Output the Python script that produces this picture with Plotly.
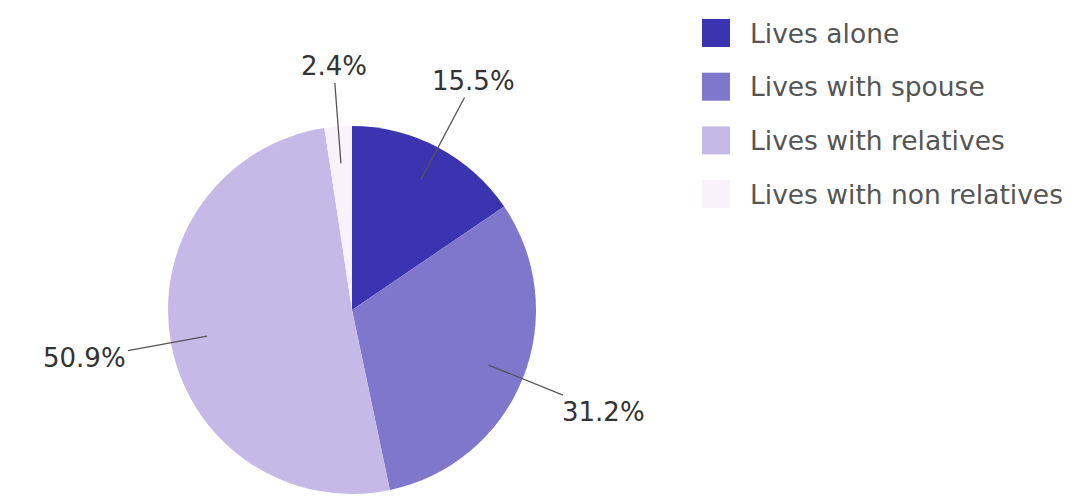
import math
import plotly.graph_objects as go

# ---- data ----
categories = ["Lives alone", "Lives with spouse", "Lives with relatives", "Lives with non relatives"]
shares = [15.5, 31.2, 50.9, 2.4]
colors = ["#3b34b0", "#7f77cc", "#c4b9e7", "#faf2fa"]

# ---- layout constants (pixels) ----
W, H = 1072, 496
CX, CY, R = 352, 310, 184
LABEL_FONT = 26
LEGEND_FONT = 26.5
LEG_SWATCH_X = 702
LEG_SWATCH = 28
LEG_TEXT_X = 748
LEG_Y0 = 33
LEG_PITCH = 53.7
FONT = "DejaVu Sans"


def px_to_paper(x, y):
    return x / W, 1 - y / H


fig = go.Figure()
fig.add_trace(go.Pie(
    labels=categories,
    values=shares,
    sort=False,
    direction="clockwise",
    rotation=0,
    marker=dict(colors=colors, line=dict(color="white", width=0)),
    textinfo="none",
    showlegend=False,
    hoverinfo="label+percent",
    domain=dict(
        x=[(CX - R) / W, (CX + R) / W],
        y=[(H - CY - R) / H, (H - CY + R) / H],
    ),
))

annotations = []
shapes = []

# outside labels with leader lines, placed along each slice's mid-angle
total = sum(shares)
cum = 0.0
for v in shares:
    mid = (cum + v / 2) / total * 2 * math.pi
    cum += v
    s, c = math.sin(mid), math.cos(mid)
    r1 = 0.8 * R
    r2 = 1.24 * R
    sx, sy = CX + r1 * s, CY - r1 * c
    ex, ey = CX + r2 * s, CY - r2 * c
    half_w = 0.5 * LABEL_FONT * 3.2
    half_h = 0.5 * LABEL_FONT
    d = abs(s) * half_w + abs(c) * half_h
    tx, ty = ex + s * d, ey - c * d
    ax_, ay_ = px_to_paper(sx, sy)
    annotations.append(dict(
        x=ax_, y=ay_, xref="paper", yref="paper",
        text=f"{v:.1f}%",
        showarrow=True, arrowhead=0, arrowwidth=1.3, arrowcolor="#555555",
        ax=tx - sx, ay=ty - sy,
        font=dict(family=FONT, size=LABEL_FONT, color="#333333"),
        standoff=0,
    ))

# legend drawn as swatches + texts
for i, (name, col) in enumerate(zip(categories, colors)):
    yc = LEG_Y0 + i * LEG_PITCH
    x0, y0 = px_to_paper(LEG_SWATCH_X, yc - LEG_SWATCH / 2)
    x1, y1 = px_to_paper(LEG_SWATCH_X + LEG_SWATCH, yc + LEG_SWATCH / 2)
    shapes.append(dict(type="rect", xref="paper", yref="paper",
                       x0=x0, y0=y1, x1=x1, y1=y0,
                       fillcolor=col, line=dict(width=0)))
    tx, ty = px_to_paper(LEG_TEXT_X, yc)
    annotations.append(dict(
        x=tx, y=ty, xref="paper", yref="paper", showarrow=False,
        xanchor="left", yanchor="middle", text=name,
        font=dict(family=FONT, size=LEGEND_FONT, color="#555555"),
    ))

fig.update_layout(
    width=W, height=H,
    margin=dict(l=0, r=0, t=0, b=0),
    paper_bgcolor="white", plot_bgcolor="white",
    annotations=annotations, shapes=shapes,
    showlegend=False,
)

fig.write_html("out.html")
